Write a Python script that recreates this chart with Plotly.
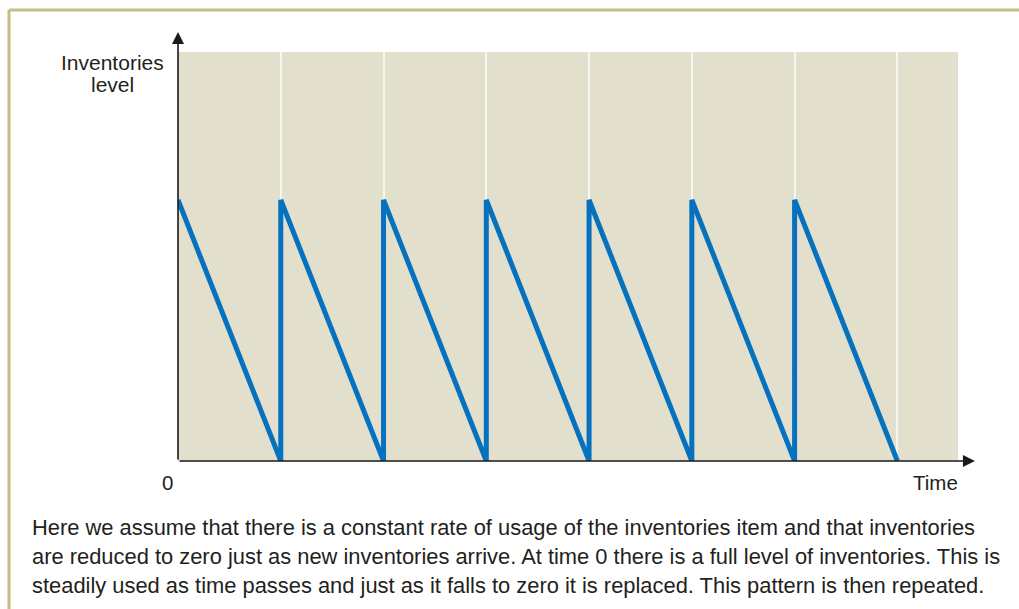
import plotly.graph_objects as go

# Sawtooth inventory profile: full at each delivery, used up steadily to zero
time_points = [0, 1, 1, 2, 2, 3, 3, 4, 4, 5, 5, 6, 6, 7]
inventory_level = [1, 0, 1, 0, 1, 0, 1, 0, 1, 0, 1, 0, 1, 0]

y_label_lines = ["Inventories", "level"]
x_label = "Time"
origin_label = "0"
caption_lines = [
    "Here we assume that there is a constant rate of usage of the inventories item and that inventories",
    "are reduced to zero just as new inventories arrive. At time 0 there is a full level of inventories. This is",
    "steadily used as time passes and just as it falls to zero it is replaced. This pattern is then repeated.",
]

W, H = 1019, 609
L, R, T, B = 178, 61, 52, 148
X_MAX, Y_MAX = 7.59, 1.567
pw, ph = W - L - R, H - T - B


def px(x):
    return (x - L) / pw


def py(y):
    return (H - B - y) / ph


FONT = "Liberation Sans, Arial, sans-serif"
TEXT = "#231f20"

fig = go.Figure()
fig.add_trace(go.Scatter(
    x=time_points, y=inventory_level, mode="lines",
    line=dict(color="#0571bf", width=5),
    hoverinfo="skip", showlegend=False,
))

annotations = []
# axes drawn as arrows from the origin
annotations.append(dict(x=0, y=Y_MAX * 1.049, xref="x", yref="y", ax=0, ay=0,
                        axref="x", ayref="y", showarrow=True, arrowhead=2,
                        arrowsize=1.5, arrowwidth=1.6, arrowcolor="#1a1a1a", text=""))
annotations.append(dict(x=X_MAX * 1.0217, y=0, xref="x", yref="y", ax=0, ay=0,
                        axref="x", ayref="y", showarrow=True, arrowhead=2,
                        arrowsize=1.5, arrowwidth=1.6, arrowcolor="#1a1a1a", text=""))

for txt, yc in zip(y_label_lines, [62, 84]):
    annotations.append(dict(x=px(112), y=py(yc), xref="paper", yref="paper",
                            text=txt, showarrow=False, xanchor="center", yanchor="middle",
                            font=dict(family=FONT, size=21, color=TEXT)))

annotations.append(dict(x=px(167), y=py(483), xref="paper", yref="paper",
                        text=origin_label, showarrow=False, xanchor="center", yanchor="middle",
                        font=dict(family=FONT, size=20.5, color=TEXT)))
annotations.append(dict(x=px(935), y=py(483), xref="paper", yref="paper",
                        text=x_label, showarrow=False, xanchor="center", yanchor="middle",
                        font=dict(family=FONT, size=20.5, color=TEXT)))

for txt, yc in zip(caption_lines, [527, 556, 585]):
    annotations.append(dict(x=px(30), y=py(yc), xref="paper", yref="paper",
                            text=txt, showarrow=False, xanchor="left", yanchor="middle",
                            font=dict(family=FONT, size=21.9, color=TEXT)))

shapes = [
    # frame: top and left rules
    dict(type="line", xref="paper", yref="paper", x0=px(9), x1=px(W + 5),
         y0=py(10), y1=py(10), line=dict(color="#c5bd88", width=3)),
    dict(type="line", xref="paper", yref="paper", x0=px(9), x1=px(9),
         y0=py(10), y1=py(H + 5), line=dict(color="#c5bd88", width=3)),
]

fig.update_layout(
    width=W, height=H,
    margin=dict(l=L, r=R, t=T, b=B, pad=0),
    paper_bgcolor="white", plot_bgcolor="#e2dfcc",
    xaxis=dict(range=[0, X_MAX], showgrid=True, gridcolor="#f6f6f3", gridwidth=2,
               tick0=0, dtick=1, showticklabels=False, ticks="", zeroline=False,
               showline=False, fixedrange=True),
    yaxis=dict(range=[0, Y_MAX], showgrid=False, showticklabels=False, ticks="",
               zeroline=False, showline=False, fixedrange=True),
    annotations=annotations,
    shapes=shapes,
)

fig.write_html("out.html")
